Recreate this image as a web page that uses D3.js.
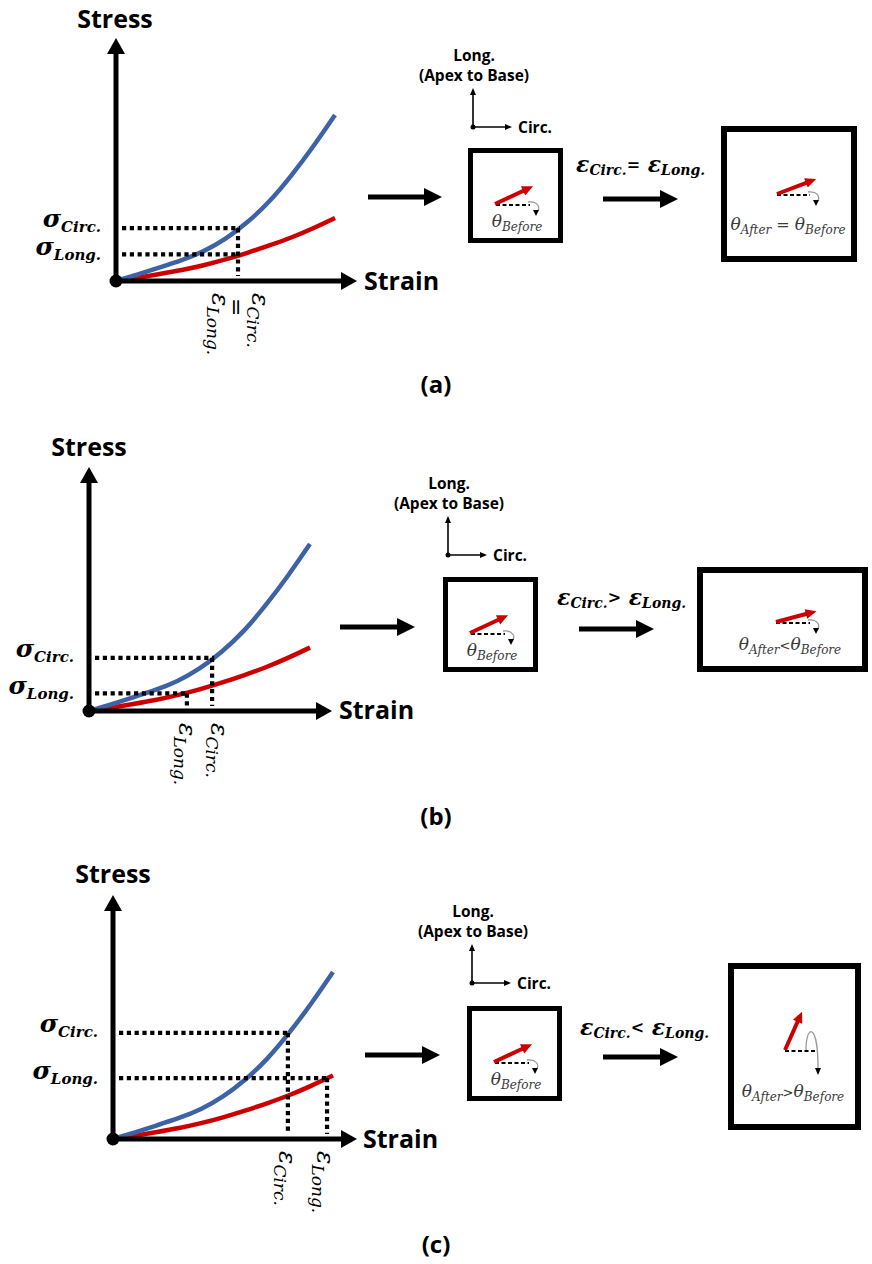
<!DOCTYPE html>
<html><head><meta charset="utf-8">
<script src="https://cdn.jsdelivr.net/npm/d3@7"></script>
<style>html,body{margin:0;padding:0;background:#fff;} svg{display:block;}</style>
</head><body><svg id="c" width="872" height="1264"></svg>
<script>
// ---------- data ----------
const strain      = [0, 0.1, 0.2, 0.3, 0.4, 0.5, 0.6, 0.7, 0.8, 0.9, 1.0];
const circStress  = [0, 0.04, 0.082, 0.126, 0.18, 0.255, 0.355, 0.48, 0.635, 0.81, 1.0];
const longStress  = [0, 0.02, 0.042, 0.066, 0.095, 0.13, 0.17, 0.214, 0.262, 0.318, 0.38];
const panelLabels = ["(a)", "(b)", "(c)"];
const relations   = ["=", ">", "<"];
const epsCirc     = [0.557, 0.557, 0.795];
const epsLong     = [0.557, 0.443, 0.973];
const sigCirc     = [0.318, 0.318, 0.635];
const sigLong     = [0.16, 0.105, 0.365];
const thetaBefore = 25;
const thetaAfter  = [21, 15, 66];
const afterRel    = [" = ", "<", ">"];

// ---------- layout ----------
const SANS = "'Open Sans', sans-serif";
const SERIF = "'DejaVu Serif', serif";
const BLUE = "#3D62A6", RED = "#CC0000";
const layout = [
  {ox:116, oy:281, xEnd:335, yEnd:115, axisX:357, axisY:38, stress:[115,28], strainL:[364,290],
   a1:[368,442,197], sbox:[468,148], rel:[576,172], a2:[603,678,199], bbox:[721,126,136,136],
   bBase:[777,195], dashLen:33, loop:false, bLabel:[788,230], label:[436,393],
   rot:[{k:'long', dx:-26}, {k:'eq', dx:-9}, {k:'circ', dx:14}]},
  {ox:89, oy:711, xEnd:310, yEnd:544, axisX:332, axisY:467, stress:[89,456], strainL:[339,719],
   a1:[340,415,627], sbox:[443,577], rel:[557,605], a2:[579,654,629], bbox:[697,567,171,105],
   bBase:[776,623], dashLen:34, loop:false, bLabel:[790,650], label:[436,825],
   rot:[{k:'long', dx:-8}, {k:'circ', dx:-1}]},
  {ox:113, oy:1139, xEnd:333, yEnd:972, axisX:357, axisY:895, stress:[113,883], strainL:[363,1148],
   a1:[365,440,1055], sbox:[467,1006], rel:[580,1035], a2:[603,678,1057], bbox:[728,963,133,167],
   bBase:[785,1051], dashLen:30, loop:true, bLabel:[793,1097], label:[436,1253],
   rot:[{k:'circ', dx:-9}, {k:'long', dx:-10}]}
];

const svg = d3.select('#c');
svg.append('rect').attr('width', 872).attr('height', 1264).attr('fill', '#fff');

function tri(g, tx, ty, angDeg, len, wid, fill) {
  const a = angDeg * Math.PI / 180, ux = Math.cos(a), uy = Math.sin(a);
  const bx = tx - ux * len, by = ty - uy * len, px = -uy * wid / 2, py = ux * wid / 2;
  g.append('path').attr('d', `M${tx},${ty}L${bx + px},${by + py}L${bx - px},${by - py}Z`).attr('fill', fill);
}
function arrow(g, x1, y1, x2, y2, sw, hl, hw, color) {
  const ang = Math.atan2(y2 - y1, x2 - x1);
  const ex = x2 - Math.cos(ang) * (hl - 1), ey = y2 - Math.sin(ang) * (hl - 1);
  g.append('line').attr('x1', x1).attr('y1', y1).attr('x2', ex).attr('y2', ey)
    .attr('stroke', color).attr('stroke-width', sw);
  tri(g, x2, y2, ang * 180 / Math.PI, hl, hw, color);
}
function math(g, x, y, parts, o = {}) {
  const t = g.append('text')
    .attr('transform', `translate(${x},${y}) rotate(${o.rotate || 0})`)
    .attr('text-anchor', o.anchor || 'start')
    .attr('font-family', SERIF).attr('font-style', o.style || 'italic')
    .attr('font-weight', o.weight || 'bold').attr('fill', o.fill || '#000');
  let cur = 0;
  parts.forEach(p => {
    const off = p.sub || 0;
    t.append('tspan').attr('font-size', p.size).attr('dy', off - cur)
      .attr('font-weight', p.weight || null).attr('font-style', p.style || null).text(p.t);
    cur = off;
  });
  return t;
}
function redVector(g, bx, by, ang, len) {
  const a = ang * Math.PI / 180;
  arrow(g, bx, by - 1, bx + len * Math.cos(a), by - 1 - len * Math.sin(a), 4, 11, 10, RED);
}
function dashedRef(g, bx, by, len) {
  g.append('line').attr('x1', bx).attr('y1', by).attr('x2', bx + len).attr('y2', by)
    .attr('stroke', '#000').attr('stroke-width', 2).attr('stroke-dasharray', '4,2.5');
}
function smallArc(g, ex, ey) {
  g.append('path').attr('d', `M${ex - 2},${ey - 3}C${ex + 8},${ey - 4} ${ex + 12},${ey + 4} ${ex + 6},${ey + 7}`)
    .attr('fill', 'none').attr('stroke', '#999').attr('stroke-width', 1.3);
  tri(g, ex + 6, ey + 11, 90, 6, 6, '#000');
}

layout.forEach((L, i) => {
  const g = svg.append('g');
  const x = d3.scaleLinear().domain([0, 1]).range([L.ox, L.xEnd]);
  const y = d3.scaleLinear().domain([0, 1]).range([L.oy, L.yEnd]);

  // curves
  const mk = arr => d3.line().x((d, j) => x(strain[j])).y(d => y(d)).curve(d3.curveNatural)(arr);
  g.append('path').attr('d', mk(longStress)).attr('fill', 'none').attr('stroke', RED).attr('stroke-width', 4.5);
  g.append('path').attr('d', mk(circStress)).attr('fill', 'none').attr('stroke', BLUE).attr('stroke-width', 4.5);

  // dotted guides
  const dot = (x1, y1, x2, y2) => g.append('line').attr('x1', x1).attr('y1', y1).attr('x2', x2).attr('y2', y2)
    .attr('stroke', '#000').attr('stroke-width', 4.2).attr('stroke-dasharray', '4.2,3.6');
  dot(x(0) + 6, y(sigCirc[i]), x(epsCirc[i]) + 2, y(sigCirc[i]));
  dot(x(0) + 6, y(sigLong[i]), x(epsLong[i]) + 2, y(sigLong[i]));
  dot(x(epsCirc[i]), y(sigCirc[i]), x(epsCirc[i]), L.oy - 5);
  if (epsLong[i] !== epsCirc[i]) dot(x(epsLong[i]), y(sigLong[i]), x(epsLong[i]), L.oy - 5);

  // axes
  g.append('line').attr('x1', L.ox).attr('y1', L.oy).attr('x2', L.ox).attr('y2', L.axisY + 14)
    .attr('stroke', '#000').attr('stroke-width', 5);
  tri(g, L.ox, L.axisY, -90, 16, 18, '#000');
  g.append('line').attr('x1', L.ox).attr('y1', L.oy).attr('x2', L.axisX - 14).attr('y2', L.oy)
    .attr('stroke', '#000').attr('stroke-width', 5);
  tri(g, L.axisX, L.oy, 0, 16, 18, '#000');
  g.append('circle').attr('cx', L.ox).attr('cy', L.oy).attr('r', 6.5).attr('fill', '#000');

  g.append('text').attr('x', L.stress[0]).attr('y', L.stress[1]).attr('text-anchor', 'middle')
    .attr('font-family', SANS).attr('font-weight', 700).attr('font-size', 25).text('Stress');
  g.append('text').attr('x', L.strainL[0]).attr('y', L.strainL[1])
    .attr('font-family', SANS).attr('font-weight', 700).attr('font-size', 25).text('Strain');

  // sigma labels
  math(g, L.ox - 15, y(sigCirc[i]) - 1, [{t:'σ', size:25}, {t:'Circ.', size:15, sub:5}], {anchor:'end'});
  math(g, L.ox - 15, y(sigLong[i]) + 1, [{t:'σ', size:25}, {t:'Long.', size:15, sub:5}], {anchor:'end'});

  // rotated epsilon labels
  L.rot.forEach(r => {
    const ry = L.oy + 12;
    if (r.k === 'eq') {
      math(g, x(epsCirc[i]) + r.dx, ry + 5, [{t:'=', size:22}], {rotate:90, weight:'normal', style:'normal'});
    } else {
      const ev = r.k === 'circ' ? epsCirc[i] : epsLong[i];
      math(g, x(ev) + r.dx, ry, [{t:'ε', size:25}, {t:r.k === 'circ' ? 'Circ.' : 'Long.', size:17, sub:5}],
        {rotate:90, weight:'normal'});
    }
  });

  // connector arrows
  arrow(g, L.a1[0], L.a1[2], L.a1[1], L.a1[2], 5, 18, 18, '#000');
  arrow(g, L.a2[0], L.a2[2], L.a2[1], L.a2[2], 5, 18, 18, '#000');

  // coordinate frame
  const fx = L.sbox[0] + 5, fy = L.sbox[1] - 21 - (i === 2 ? 2 : (i === 1 ? 1 : 0));
  arrow(g, fx, fy, fx, fy - 39, 1.6, 7, 6, '#000');
  arrow(g, fx, fy, fx + 39, fy, 1.6, 7, 6, '#000');
  g.append('circle').attr('cx', fx).attr('cy', fy).attr('r', 2.5).attr('fill', '#000');
  g.append('text').attr('x', fx + 1).attr('y', fy - 66).attr('text-anchor', 'middle')
    .attr('font-family', SANS).attr('font-weight', 700).attr('font-size', 15.5).text('Long.');
  g.append('text').attr('x', fx + 1).attr('y', fy - 46).attr('text-anchor', 'middle')
    .attr('font-family', SANS).attr('font-weight', 700).attr('font-size', 15.5).text('(Apex to Base)');
  g.append('text').attr('x', fx + 45).attr('y', fy + 5.5)
    .attr('font-family', SANS).attr('font-weight', 700).attr('font-size', 15.5).text('Circ.');

  // small box (before)
  const [sx, sy] = L.sbox;
  g.append('rect').attr('x', sx + 2.5).attr('y', sy + 2.5).attr('width', 90).attr('height', 90)
    .attr('fill', 'none').attr('stroke', '#000').attr('stroke-width', 5);
  dashedRef(g, sx + 28, sy + 57, 34);
  smallArc(g, sx + 62, sy + 57);
  redVector(g, sx + 27, sy + 57, thetaBefore, 42);
  math(g, sx + 49, sy + 79, [{t:'θ', size:17}, {t:'Before', size:12, sub:4}],
    {anchor:'middle', weight:'normal', fill:'#3a3a3a'});

  // relation text
  math(g, L.rel[0], L.rel[1], [{t:'ε', size:22}, {t:'Circ.', size:14, sub:3},
    {t:relations[i], size:16, sub:-2, style:'normal'}, {t:' ε', size:22}, {t:'Long.', size:14, sub:3}]);

  // big box (after)
  const [bx, by, bw, bh] = L.bbox;
  g.append('rect').attr('x', bx + 3).attr('y', by + 3).attr('width', bw - 6).attr('height', bh - 6)
    .attr('fill', 'none').attr('stroke', '#000').attr('stroke-width', 6);
  const [px, py] = L.bBase;
  dashedRef(g, px, py, L.dashLen);
  if (L.loop) {
    const ex = px + L.dashLen;
    g.append('path').attr('d', `M${ex - 9},${py - 1}C${ex - 9},${py - 27} ${ex + 3},${py - 29} ${ex + 3},${py + 17}`)
      .attr('fill', 'none').attr('stroke', '#999').attr('stroke-width', 1.3);
    tri(g, ex + 3, py + 24, 90, 7, 6, '#000');
  } else {
    smallArc(g, px + L.dashLen, py);
  }
  redVector(g, px, py, thetaAfter[i], 42);
  math(g, L.bLabel[0], L.bLabel[1], [{t:'θ', size:17}, {t:'After', size:12, sub:4},
    {t:afterRel[i], size: i === 0 ? 16 : 13, sub:0, style:'normal'}, {t:'θ', size:17}, {t:'Before', size:12, sub:4}],
    {anchor:'middle', weight:'normal', fill:'#3a3a3a'});

  // panel label
  g.append('text').attr('x', L.label[0]).attr('y', L.label[1]).attr('text-anchor', 'middle')
    .attr('font-family', SANS).attr('font-weight', 700).attr('font-size', 24).text(panelLabels[i]);
});
</script></body></html>
